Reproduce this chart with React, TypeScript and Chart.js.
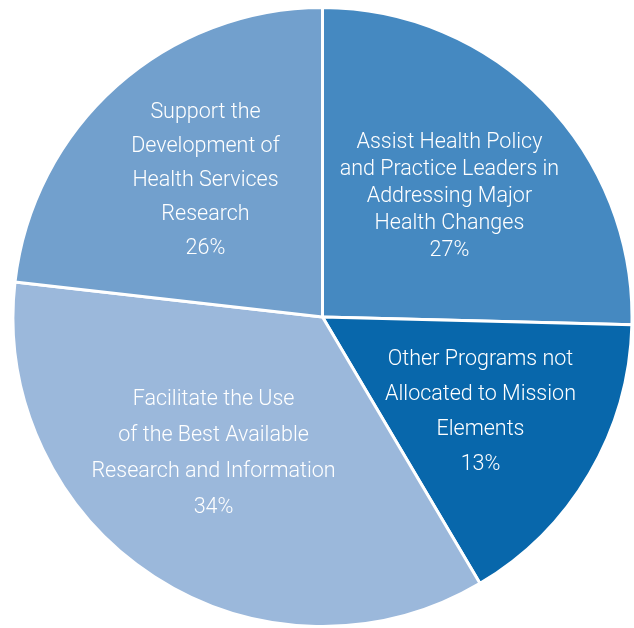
import React, { useEffect, useRef } from "react";
import { Chart, registerables } from "chart.js";

Chart.register(...registerables);

const categories = [
  "Assist Health Policy and Practice Leaders in Addressing Major Health Changes",
  "Other Programs not Allocated to Mission Elements",
  "Facilitate the Use of the Best Available Research and Information",
  "Support the Development of Health Services Research",
];
const sliceShares = [25.4, 16.1, 35.3, 23.2];
// percentages printed on the chart
const percentLabels = ["27%", "13%", "34%", "26%"];
const labelLines = [
  ["Assist Health Policy", "and Practice Leaders in", "Addressing Major", "Health Changes"],
  ["Other Programs not", "Allocated to Mission", "Elements"],
  ["Facilitate the Use", "of the Best Available", "Research and Information"],
  ["Support the", "Development of", "Health Services", "Research"],
];
const sliceColors = ["#4589c1", "#0867ab", "#9bb8db", "#72a0cd"];

// label placement relative to each slice (angle shift in degrees, radius fraction, line height)
const labelPlacement = [
  { dAngle: 0.3, frac: 0.57, lh: 27 },
  { dAngle: 0, frac: 0.592, lh: 35 },
  { dAngle: 6, frac: 0.56, lh: 36 },
  { dAngle: 1.5, frac: 0.585, lh: 34 },
];

const FONT = '300 21.5px Roboto, "Liberation Sans", Arial, sans-serif';

const labelPlugin = {
  id: "sliceLabels",
  afterDatasetsDraw(chart: any) {
    const ctx = chart.ctx;
    const meta = chart.getDatasetMeta(0);
    ctx.save();
    ctx.fillStyle = "#ffffff";
    ctx.font = FONT;
    ctx.textAlign = "center";
    ctx.textBaseline = "middle";
    meta.data.forEach((arc: any, i: number) => {
      const p = arc.getProps(["x", "y", "startAngle", "endAngle", "outerRadius"], true);
      const place = labelPlacement[i];
      const mid = (p.startAngle + p.endAngle) / 2 + (place.dAngle * Math.PI) / 180;
      const r = p.outerRadius * place.frac;
      const cx = p.x + Math.cos(mid) * r;
      const cy = p.y + Math.sin(mid) * r + 2;
      const lines = [...labelLines[i], percentLabels[i]];
      const total = (lines.length - 1) * place.lh;
      lines.forEach((t, k) => {
        ctx.fillText(t, cx, cy - total / 2 + k * place.lh);
      });
    });
    ctx.restore();
  },
};

export default function App() {
  const ref = useRef<HTMLCanvasElement | null>(null);
  useEffect(() => {
    if (!ref.current) return;
    const chart = new Chart(ref.current, {
      type: "pie",
      data: {
        labels: categories,
        datasets: [
          {
            data: sliceShares,
            backgroundColor: sliceColors,
            borderColor: "#ffffff",
            borderWidth: 3,
          },
        ],
      },
      options: {
        animation: false,
        responsive: false,
        maintainAspectRatio: false,
        layout: { padding: { left: 11, right: 0, top: 6, bottom: 0 } },
        plugins: {
          legend: { display: false },
          tooltip: { enabled: false },
        },
      },
      plugins: [labelPlugin],
    });
    return () => chart.destroy();
  }, []);
  return (
    <div style={{ position: "absolute", left: 0, top: 0, width: 634, height: 628, background: "#fff" }}>
      <canvas ref={ref} width={634} height={628} style={{ width: 634, height: 628 }} />
    </div>
  );
}
